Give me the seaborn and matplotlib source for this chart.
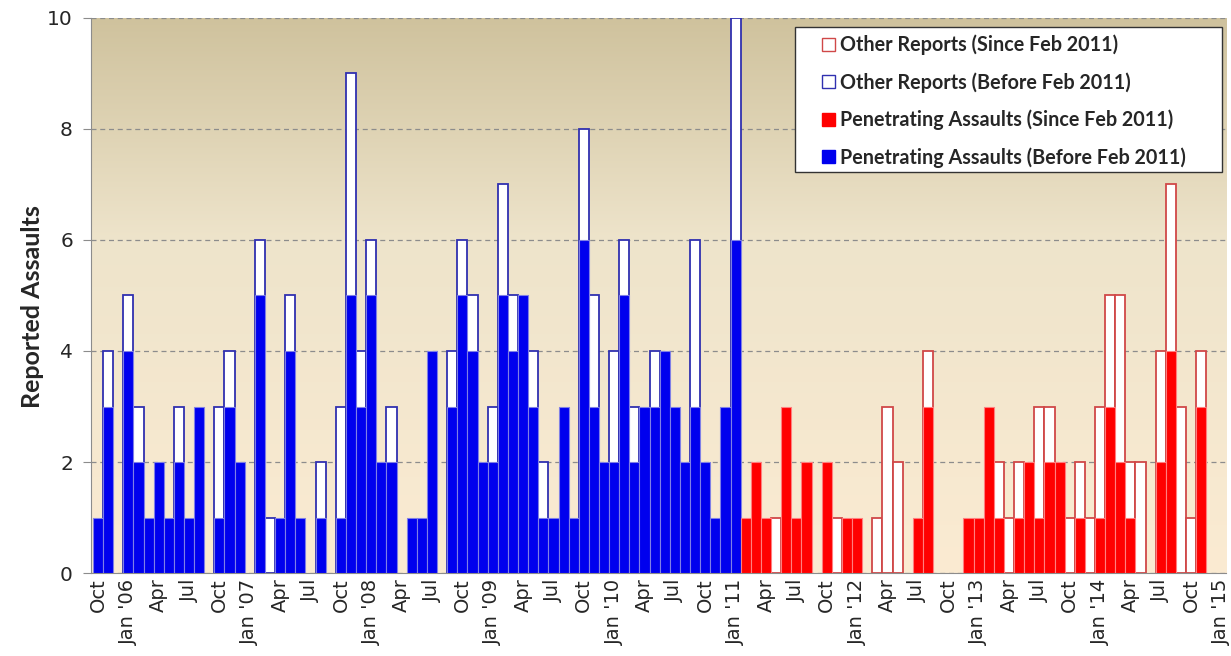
import numpy as np
import pandas as pd
import matplotlib
matplotlib.use("Agg")
import matplotlib.pyplot as plt
from matplotlib.patches import Patch, Rectangle
from matplotlib.colors import LinearSegmentedColormap
import seaborn as sns

# Meses desde Oct 2005 (indice 0) hasta Jan 2015 (indice 111)
penetrating = [1, 3, 0, 4, 2, 1, 2, 1, 2, 1, 3, 0,
               1, 3, 2, 0, 5, 0, 1, 4, 1, 0, 1, 0,
               1, 5, 3, 5, 2, 2, 0, 1, 1, 4, 0, 3,
               5, 4, 2, 2, 5, 4, 5, 3, 1, 1, 3, 1,
               6, 3, 2, 2, 5, 2, 3, 3, 4, 3, 2, 3,
               2, 1, 3, 6, 1, 2, 1, 0, 3, 1, 2, 0,
               2, 0, 1, 1, 0, 0, 0, 0, 0, 1, 3, 0,
               0, 0, 1, 1, 3, 1, 0, 1, 2, 1, 2, 2,
               0, 1, 0, 1, 3, 2, 1, 0, 0, 2, 4, 0,
               0, 3, 0, 0]
other = [0, 1, 0, 1, 1, 0, 0, 0, 1, 0, 0, 0,
         2, 1, 0, 0, 1, 1, 0, 1, 0, 0, 1, 0,
         2, 4, 1, 1, 0, 1, 0, 0, 0, 0, 0, 1,
         1, 1, 0, 1, 2, 1, 0, 1, 1, 0, 0, 0,
         2, 2, 0, 2, 1, 1, 0, 1, 0, 0, 0, 3,
         0, 0, 0, 4, 0, 0, 0, 1, 0, 0, 0, 0,
         0, 1, 0, 0, 0, 1, 3, 2, 0, 0, 1, 0,
         0, 0, 0, 0, 0, 1, 1, 1, 0, 2, 1, 0,
         1, 1, 1, 2, 2, 3, 1, 2, 0, 2, 3, 3,
         1, 1, 0, 0]
split_month = 64  # Feb 2011

tick_labels = ["Oct", "Jan '06", "Apr", "Jul", "Oct", "Jan '07", "Apr", "Jul",
               "Oct", "Jan '08", "Apr", "Jul", "Oct", "Jan '09", "Apr", "Jul",
               "Oct", "Jan '10", "Apr", "Jul", "Oct", "Jan '11", "Apr", "Jul",
               "Oct", "Jan '12", "Apr", "Jul", "Oct", "Jan '13", "Apr", "Jul",
               "Oct", "Jan '14", "Apr", "Jul", "Oct", "Jan '15"]

df = pd.DataFrame({"month": np.arange(len(penetrating)),
                   "penetrating": penetrating, "other": other})
df["total"] = df["penetrating"] + df["other"]
df["period"] = np.where(df["month"] < split_month, "before", "since")

sns.set_style("white")
plt.rcParams["font.family"] = ["DejaVu Sans"]

fig, ax = plt.subplots(figsize=(12.31, 6.56), dpi=100)
fig.subplots_adjust(left=0.0739, right=0.996, top=0.9726, bottom=0.1265)

# Fondo degradado del area de la grafica
x0, x1 = -0.69, 111.45
grad = np.linspace(0, 1, 256).reshape(-1, 1)
cmap = LinearSegmentedColormap.from_list(
    "fondo", [(0.0, "#CFC29D"), (0.4, "#EEE4CB"), (1.0, "#FBEBD2")])
ax.imshow(grad, extent=[x0, x1, 0, 10], aspect="auto", cmap=cmap,
          origin="upper", zorder=0)

estilos = {"before": ("#0000EE", "#3030B0", "#7F7FE6"),
           "since": ("#FF0000", "#D04848", "#FF7F7F")}

for periodo, (relleno, borde, borde_relleno) in estilos.items():
    sub = df[df["period"] == periodo]
    tot = sub[sub["other"] > 0]
    sns.barplot(data=tot, x="month", y="total", native_scale=True, width=1.0,
                color="white", saturation=1, edgecolor=borde, linewidth=1.3,
                errorbar=None, ax=ax, zorder=2)
    pen = sub[sub["penetrating"] > 0]
    sns.barplot(data=pen, x="month", y="penetrating", native_scale=True, width=1.0,
                color=relleno, saturation=1, edgecolor=borde_relleno, linewidth=0.8,
                errorbar=None, ax=ax, zorder=3)

ax.set_xlim(x0, x1)
ax.set_ylim(0, 10)
ax.set_yticks(range(0, 11, 2))
ax.set_xticks(np.arange(0, 112, 3))
ax.set_xticklabels(tick_labels, rotation=90)
ax.set_xlabel("")
ax.set_ylabel("Reported Assaults", fontsize=18, fontweight="bold", family="Lato")
ax.yaxis.set_label_coords(-0.041, 0.48)
ax.set_axisbelow(True)
ax.yaxis.grid(True, color="#8C8C8C", linestyle=(0, (4, 3)), linewidth=0.9)
ax.xaxis.grid(False)
for lado in ["top", "right"]:
    ax.spines[lado].set_visible(False)
for lado in ["left", "bottom"]:
    ax.spines[lado].set_color("#8C8C8C")
ax.tick_params(axis="y", length=6, color="#8C8C8C", labelsize=14.5, pad=7, left=True)
ax.tick_params(axis="x", length=0, labelsize=14, pad=4)

# Leyenda con caja dibujada a mano
ax.add_patch(Rectangle((0.6206, 0.7225), 0.3759, 0.2615, transform=ax.transAxes,
                       facecolor="white", edgecolor="#333333", linewidth=1.0,
                       zorder=4, clip_on=False))
handles = [Patch(facecolor="white", edgecolor="#D04848", label="Other Reports (Since Feb 2011)"),
           Patch(facecolor="white", edgecolor="#3030B0", label="Other Reports (Before Feb 2011)"),
           Patch(facecolor="#FF0000", edgecolor="#FF0000", label="Penetrating Assaults (Since Feb 2011)"),
           Patch(facecolor="#0000EE", edgecolor="#0000EE", label="Penetrating Assaults (Before Feb 2011)")]
leg = ax.legend(handles=handles, loc="upper left", bbox_to_anchor=(0.6444, 0.970),
                borderaxespad=0, borderpad=0, frameon=False,
                prop={"family": "Lato", "weight": "bold", "size": 14.2},
                handlelength=0.65, handleheight=0.65, handletextpad=0.25,
                labelspacing=0.86)
leg.set_zorder(5)

plt.savefig("out.png", dpi=100, facecolor="white")
